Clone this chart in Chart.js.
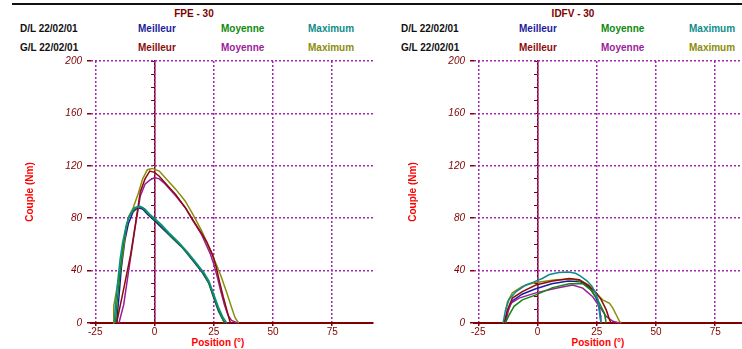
<!DOCTYPE html>
<html lang="fr">
<head>
<meta charset="UTF-8" />
<title>Couple - FPE / IDFV</title>
<script src="https://cdn.jsdelivr.net/npm/chart.js"></script>
<style>
  body { margin: 0; width: 742px; height: 349px; overflow: hidden; background: #fff; position: relative; }
  .topline { position: absolute; left: 12px; top: 3px; width: 730px; height: 2px; background: #111; }
  .panel { position: absolute; top: 0; width: 380px; height: 349px; }
  .panel canvas { position: absolute; left: 0; top: 0; }
  .lbl { position: absolute; font: bold 10px "Liberation Sans", Arial, sans-serif; line-height: 12px; white-space: nowrap; }
  .ctr { transform: translateX(-50%); }
</style>
</head>
<body>
<div class="topline"></div>
<div class="panel" id="p1" style="left:0"></div>
<div class="panel" id="p2" style="left:383px"></div>

<script>
// axes
const xTicks = [-25, 0, 25, 50, 75];
const yMax = 200;
const yStep = 40;
const legendRows = ["D/L 22/02/01", "G/L 22/02/01"];
const seriesNames = ["Meilleur", "Moyenne", "Maximum"];

// FPE - 30 : [position (deg), couple (Nm)]
const fpeMeilleurDL = [[-16,0],[-15,20],[-14,42],[-12.5,63],[-11,76],[-9,85],[-7,88],[-5,87],[-3,83],[0,78],[4,71],[8,64],[12,57],[16,48],[20,39],[23,30],[25,19],[27,9],[29,2],[30,0]];
const fpeMoyenneDL = [[-16.5,0],[-16,12],[-15,30],[-14,48],[-13,62],[-12,73],[-11,80],[-9,86],[-7,89],[-5,88],[-3,84],[0,79],[3,74],[6,68],[10,61],[14,53],[18,44],[21,37],[23,30],[25,20],[27,10],[28.5,4],[29.5,0]];
const fpeMaximumDL = [[-17,0],[-16.5,13],[-15.5,32],[-14.5,49],[-13.5,61],[-12,74],[-10.5,82],[-8.5,88],[-6,89],[-4,87],[-2,83],[0,80],[3,75],[6,69],[10,62],[14,54],[18,45],[21,38],[23,32],[25,22],[27,12],[29,4],[30.5,0]];
const fpeMeilleurGL = [[-16,0],[-13,26],[-10,53],[-8,76],[-6,100],[-4,110],[-2,116],[0,115],[2,112],[5,106],[9,98],[13,88],[16,79],[20,68],[22,62],[24.5,52],[26,43],[27.5,31],[29,20],[30.5,10],[32,0]];
const fpeMoyenneGL = [[-15,0],[-13,14],[-10.5,45],[-8,75],[-6,97],[-4,106],[-2,109],[0,111],[2,110],[4,107],[9,97],[13,88],[16,79],[20,67],[23.5,53],[25,45],[26.5,35],[28,24],[29.5,14],[31,6],[32.5,2],[35,0]];
const fpeMaximumGL = [[-17.5,0],[-17.2,13],[-16,25],[-15,35],[-13.5,52],[-12,72],[-11,81],[-9,88],[-7,98],[-5,110],[-3,117],[-1,118],[2,116],[5,110],[9,102],[13,93],[16.5,82],[20,70],[23.5,56],[26,45],[28,36],[30.5,23],[32.5,12],[34,4],[35.5,0]];

// IDFV - 30
const idfvMeilleurDL = [[-14,0],[-12.5,10],[-10.5,17],[-6.5,22],[-1,26],[6,30],[13,32],[18,31.5],[22,27],[24.5,20],[26,13],[26.5,6],[26.7,0]];
const idfvMoyenneDL = [[-13.6,0],[-12,6],[-9.9,12.7],[-6.4,17.7],[-0.7,21.5],[6.4,27],[13.4,30],[19.1,30],[22.6,25],[25.4,17.7],[27,12],[28.2,7.6],[29,0]];
const idfvMaximumDL = [[-14.5,0],[-13.5,10],[-12,18],[-9,24],[-5,29],[-2,31],[2,34],[5,37],[9,38.5],[13,39],[16,38],[18,36],[21,32],[23,28],[24.5,23],[25.5,18],[26,10],[26.8,0]];
const idfvMeilleurGL = [[-14.1,0],[-12.7,10],[-10.6,19],[-6.4,24],[-0.7,29],[6.4,32],[13.4,34],[17.7,33],[21.2,29],[24.7,23],[26.8,18],[29,10],[30.4,2.5],[31,0]];
const idfvMoyenneGL = [[-13.4,0],[-12.5,8],[-11.3,15],[-7.8,19],[-0.7,23],[7.8,26.6],[14.8,29],[19.1,26.6],[23.3,20],[26.1,12.7],[29,5],[31.8,1.3],[34.6,0]];
const idfvMaximumGL = [[-13.5,9],[-12.7,16],[-10.6,23],[-6.4,28],[-0.7,31],[7.8,33],[14.8,33.4],[19.1,31.6],[22.6,28],[25.4,21.5],[27.5,17.7],[30.4,15],[31.8,11.4],[33.2,6.3],[34.6,1.3],[35.3,0]];

const dlColors = ["#1c1c9c", "#0e8a0e", "#0e8c8c"];
const glColors = ["#8c0c0c", "#9a1c9a", "#8c8c0c"];
const maroon = "#800000";
const gridPurple = "#a326b0";
const font = '"Liberation Sans", Arial, sans-serif';

function label(panel, text, x, y, color, centered) {
  const d = document.createElement("div");
  d.className = "lbl" + (centered ? " ctr" : "");
  d.style.left = x + "px";
  d.style.top = y + "px";
  d.style.color = color;
  d.textContent = text;
  panel.appendChild(d);
}

function makePanel(id, cfg) {
  const panel = document.getElementById(id);
  label(panel, cfg.title, cfg.titleX, 8, maroon, true);
  legendRows.forEach((row, r) => {
    const top = r === 0 ? 23 : 42;
    label(panel, row, cfg.legendX[0], top, "#111");
    const cols = r === 0 ? dlColors : glColors;
    seriesNames.forEach((s, i) => label(panel, s, cfg.legendX[i + 1], top, cols[i]));
  });
  label(panel, "Position (°)", cfg.xTitleX, 337, "#ff0000", true);

  const canvas = document.createElement("canvas");
  canvas.width = 380;
  canvas.height = 349;
  panel.appendChild(canvas);

  const pts = arr => arr.map(p => ({ x: p[0], y: p[1] }));
  const line = (lbl, data, color, order) => ({
    label: lbl, data: pts(data), borderColor: color, borderWidth: 1.5,
    pointRadius: 0, tension: 0, fill: false, clip: false, order: order
  });

  new Chart(canvas, {
    type: "line",
    data: {
      datasets: [
        line("Meilleur D/L", cfg.dl[0], dlColors[0], 6),
        line("Moyenne D/L", cfg.dl[1], dlColors[1], 2),
        line("Maximum D/L", cfg.dl[2], dlColors[2], 1),
        line("Meilleur G/L", cfg.gl[0], glColors[0], 3),
        line("Moyenne G/L", cfg.gl[1], glColors[1], 4),
        line("Maximum G/L", cfg.gl[2], glColors[2], 5),
      ],
    },
    options: {
      responsive: false,
      animation: false,
      layout: { padding: { top: 61, right: 7, left: 0, bottom: 0 } },
      plugins: { legend: { display: false }, tooltip: { enabled: false } },
      scales: {
        x: {
          type: "linear",
          min: -26.8,
          max: 92.2,
          afterBuildTicks: s => { s.ticks = xTicks.map(v => ({ value: v })); },
          afterFit: s => { s.height = 26; },
          grid: { color: gridPurple, lineWidth: 1.5, tickColor: maroon, tickLength: 3 },
          border: { color: maroon, width: 2, dash: [2, 2] },
          ticks: { color: maroon, padding: 0, font: { family: font, size: 10 } },
        },
        y: {
          min: 0,
          max: yMax,
          ticks: { stepSize: yStep, color: maroon, padding: 5, font: { family: font, size: 10, style: "italic" } },
          afterFit: s => { s.width = 91; },
          grid: { color: ctx => ctx.tick.value === 0 ? "rgba(0,0,0,0)" : gridPurple, lineWidth: 1.5, tickColor: maroon, tickLength: 4 },
          border: { display: false, dash: [2, 2] },
          title: { display: true, text: "Couple (Nm)", color: "#ff0000", padding: { top: 24, bottom: 0 }, font: { family: font, size: 10, weight: "bold" } },
        },
        y0: {
          position: { x: 0 },
          min: 0,
          max: yMax,
          ticks: { display: false, stepSize: 10 },
          grid: { drawOnChartArea: false, tickColor: maroon, tickLength: 3, z: -3 },
          border: { color: maroon, width: 1.5, z: -2 },
        },
      },
    },
  });
}

makePanel("p1", {
  title: "FPE - 30", titleX: 194, xTitleX: 218,
  legendX: [20, 138, 221, 308],
  dl: [fpeMeilleurDL, fpeMoyenneDL, fpeMaximumDL],
  gl: [fpeMeilleurGL, fpeMoyenneGL, fpeMaximumGL],
});
makePanel("p2", {
  title: "IDFV - 30", titleX: 190, xTitleX: 215,
  legendX: [18, 136, 218, 306],
  dl: [idfvMeilleurDL, idfvMoyenneDL, idfvMaximumDL],
  gl: [idfvMeilleurGL, idfvMoyenneGL, idfvMaximumGL],
});
</script>
</body>
</html>
